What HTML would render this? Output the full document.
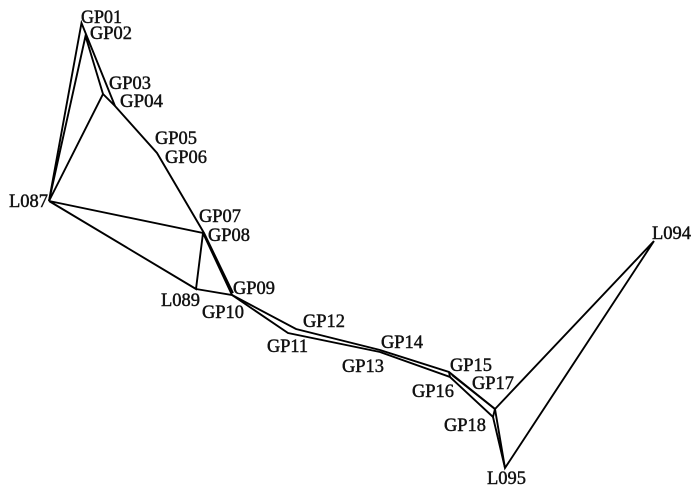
<!DOCTYPE html>
<html><head><meta charset="utf-8"><style>html,body{margin:0;padding:0;background:#fff}svg{display:block}text{font-family:"Liberation Serif",serif;font-size:18.500px;fill:#111;stroke:#111;stroke-width:.45}</style></head><body>
<svg width="700" height="497" viewBox="0 0 700 497" xmlns="http://www.w3.org/2000/svg">
<g fill="none" stroke="#000" stroke-width="1.9" stroke-linejoin="miter">
<path d="M49 201L81.500 23L115 106"/>
<path d="M49 201L85.500 36L103 94L49 201"/>
<path d="M103 94L115 106L157 153L204 233L233 293"/>
<path d="M49 201L203 233L196 289L49 201"/>
<path d="M196 289L232 295L203 233"/>
<path d="M232 295L296 329L380 350L449 372L495 409"/>
<path d="M232 295L288 333L380 352L450 377L493 417L495 409"/>
<path d="M449 372L450 377"/>
<path d="M654 241L495 409L505 468L654 241"/>
<path d="M493 417L505 468"/>
<path d="M452 375L495 409"/>
</g>
<text x="81" y="23" textLength="41" lengthAdjust="spacingAndGlyphs">GP01</text>
<text x="90" y="39" textLength="42" lengthAdjust="spacingAndGlyphs">GP02</text>
<text x="109" y="89" textLength="42" lengthAdjust="spacingAndGlyphs">GP03</text>
<text x="120" y="107" textLength="43" lengthAdjust="spacingAndGlyphs">GP04</text>
<text x="155" y="144" textLength="42" lengthAdjust="spacingAndGlyphs">GP05</text>
<text x="165" y="163" textLength="42" lengthAdjust="spacingAndGlyphs">GP06</text>
<text x="9" y="207" textLength="39" lengthAdjust="spacingAndGlyphs">L087</text>
<text x="199" y="222" textLength="42" lengthAdjust="spacingAndGlyphs">GP07</text>
<text x="208" y="241" textLength="42" lengthAdjust="spacingAndGlyphs">GP08</text>
<text x="233" y="294" textLength="42" lengthAdjust="spacingAndGlyphs">GP09</text>
<text x="161" y="306" textLength="39" lengthAdjust="spacingAndGlyphs">L089</text>
<text x="202" y="318" textLength="42" lengthAdjust="spacingAndGlyphs">GP10</text>
<text x="267" y="352" textLength="41" lengthAdjust="spacingAndGlyphs">GP11</text>
<text x="303" y="327" textLength="42" lengthAdjust="spacingAndGlyphs">GP12</text>
<text x="342" y="372" textLength="42" lengthAdjust="spacingAndGlyphs">GP13</text>
<text x="381" y="348" textLength="42" lengthAdjust="spacingAndGlyphs">GP14</text>
<text x="450" y="371" textLength="42" lengthAdjust="spacingAndGlyphs">GP15</text>
<text x="412" y="397" textLength="42" lengthAdjust="spacingAndGlyphs">GP16</text>
<text x="472" y="389" textLength="42" lengthAdjust="spacingAndGlyphs">GP17</text>
<text x="444" y="431" textLength="42" lengthAdjust="spacingAndGlyphs">GP18</text>
<text x="487" y="484" textLength="39" lengthAdjust="spacingAndGlyphs">L095</text>
<text x="652" y="239" textLength="39" lengthAdjust="spacingAndGlyphs">L094</text>
</svg>
</body></html>
